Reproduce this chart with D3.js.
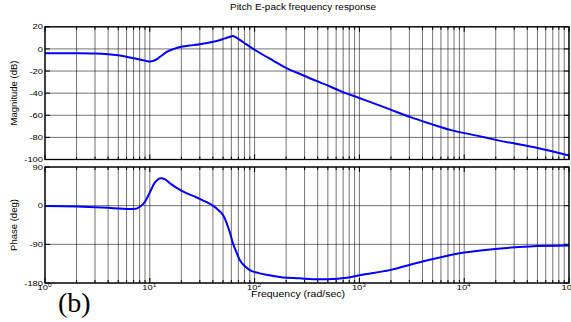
<!DOCTYPE html>
<html><head><meta charset="utf-8">
<script src="https://cdn.jsdelivr.net/npm/d3@7"></script>
<style>body{margin:0;background:#fff} svg{display:block}</style>
</head><body><svg id="c" width="571" height="322"></svg>
<script>
const magFreq = [1,2,3,4,5,6,7,8,9,10,11,12,13,14.5,17,19.4,24,30,36,43.5,52,58,62,67,78,97,121,150,195,293,525,653,1014,1960,3030,4740,7330,13200,20600,52600,100000];
const magDb = [-3.9,-4,-4.2,-4.8,-5.8,-7,-8.4,-9.6,-10.6,-11.4,-10.5,-8.5,-6,-2.7,0,1.8,3,4.2,5.5,7.2,9.5,11,11.7,10.2,6,0,-5.5,-10.5,-16.6,-24,-34,-37.9,-44.6,-54.7,-61.5,-67.6,-73.2,-78.4,-82.5,-90,-96.4];
const phaseFreq = [1,2,3,4,5,6,7,8,9,10,11.2,12.8,14,15.6,20,28,35,40,45,50,54,58,62,67,72,80,90,110,130,187,270,360,500,760,1000,1950,4000,10000,21000,42000,100000];
const phaseDeg = [-1,-2,-3.5,-5,-6.5,-7.5,-8,-3,9,31,54,64,61,52,35,19,8,0,-10,-22,-40,-62,-87,-108,-126,-140,-150,-157,-161,-167,-169,-171,-171,-168,-162,-150,-130,-109,-100,-95,-93];
const magTicks = [20,0,-20,-40,-60,-80,-100];
const phaseTicks = [90,0,-90,-180];
const decadeExps = [0,1,2,3,4,5];
const titleText = "Pitch E-pack frequency response";
const xLabel = "Frequency  (rad/sec)";
const magLabel = "Magnitude (dB)";
const phaseLabel = "Phase (deg)";
const panelTag = "(b)";

const svg = d3.select("#c");
const SX = 1.17;
const FONT = "Arial, 'Liberation Sans', Helvetica, sans-serif";

const x = d3.scaleLog().domain([1,1e5]).range([45,569]);
const yMag = d3.scaleLinear().domain([-100,20]).range([159.5,26.8]);
const yPh = d3.scaleLinear().domain([-180,90]).range([283,167]);

const majors = decadeExps.map(e => Math.pow(10,e));
const minors = [];
decadeExps.slice(0,-1).forEach(e => { for (let k=2;k<=9;k++) minors.push(k*Math.pow(10,e)); });
const allX = majors.concat(minors);

function stext(g, px, py, str, size, anchor) {
  return g.append("text")
    .attr("transform", `translate(${px},${py}) scale(${SX},1)`)
    .attr("text-anchor", anchor || "start")
    .attr("font-family", FONT).attr("font-size", size).attr("fill", "#000")
    .text(str);
}

function panel(yScale, ticks, xs, vs) {
  const g = svg.append("g");
  const [y0, y1] = yScale.range(); // bottom, top
  const [xl, xr] = x.range();
  // grid
  g.selectAll("line.vg").data(allX).join("line")
    .attr("x1", d => x(d)).attr("x2", d => x(d)).attr("y1", y1).attr("y2", y0)
    .attr("stroke", "#000").attr("stroke-opacity", 0.55).attr("stroke-width", 1);
  g.selectAll("line.hg").data(ticks).join("line")
    .attr("x1", xl).attr("x2", xr).attr("y1", d => yScale(d)).attr("y2", d => yScale(d))
    .attr("stroke", "#000").attr("stroke-opacity", 0.55).attr("stroke-width", 1);
  // inward x ticks
  const bot = g.append("g").attr("transform", `translate(0,${y0})`);
  bot.selectAll("line.t").data(allX).join("line")
    .attr("x1", d => x(d)).attr("x2", d => x(d)).attr("y1", 0)
    .attr("y2", d => majors.includes(d) ? -5 : -3).attr("stroke", "#000");
  const top = g.append("g").attr("transform", `translate(0,${y1})`);
  top.selectAll("line.t").data(allX).join("line")
    .attr("x1", d => x(d)).attr("x2", d => x(d)).attr("y1", 0)
    .attr("y2", d => majors.includes(d) ? 5 : 3).attr("stroke", "#000");
  // y ticks both sides
  g.selectAll("line.yl").data(ticks).join("line")
    .attr("x1", xl).attr("x2", xl+5).attr("y1", d => yScale(d)).attr("y2", d => yScale(d)).attr("stroke", "#000");
  g.selectAll("line.yr").data(ticks).join("line")
    .attr("x1", xr).attr("x2", xr-5).attr("y1", d => yScale(d)).attr("y2", d => yScale(d)).attr("stroke", "#000");
  // y tick labels
  ticks.forEach(t => stext(g, 43, yScale(t)+2.6, String(t), 8, "end"));
  // curve
  const line = d3.line().x((d,i) => x(xs[i])).y(d => yScale(d)).curve(d3.curveMonotoneX);
  g.append("path").attr("d", line(vs)).attr("fill", "none")
    .attr("stroke", "#0000ff").attr("stroke-width", 2).attr("stroke-linejoin", "round");
  // box
  g.append("rect").attr("x", xl).attr("y", y1).attr("width", xr-xl).attr("height", y0-y1)
    .attr("fill", "none").attr("stroke", "#000").attr("stroke-width", 1.3);
}

panel(yMag, magTicks, magFreq, magDb);
panel(yPh, phaseTicks, phaseFreq, phaseDeg);

// x tick labels
decadeExps.forEach(e => {
  const t = svg.append("text")
    .attr("transform", `translate(${x(Math.pow(10,e))-0.5},290) scale(${SX},1)`)
    .attr("text-anchor", "middle").attr("font-family", FONT).attr("font-size", 8);
  t.append("tspan").text("10");
  t.append("tspan").attr("dy", -3.5).attr("font-size", 5.5).text(String(e));
});

// x label
stext(svg, 251, 296.5, xLabel, 9, "start");
// title
stext(svg, 303, 10, titleText, 8.5, "middle");
// y labels
svg.append("text").attr("transform", "translate(17,93) rotate(-90)")
  .attr("text-anchor", "middle").attr("font-family", FONT).attr("font-size", 9.5).text(magLabel);
svg.append("text").attr("transform", "translate(17,225) rotate(-90)")
  .attr("text-anchor", "middle").attr("font-family", FONT).attr("font-size", 9.5).text(phaseLabel);
// panel tag
svg.append("text").attr("x", 58).attr("y", 311.7)
  .attr("font-family", "'Liberation Serif', 'Times New Roman', serif").attr("font-size", 28).text(panelTag);
</script></body></html>
